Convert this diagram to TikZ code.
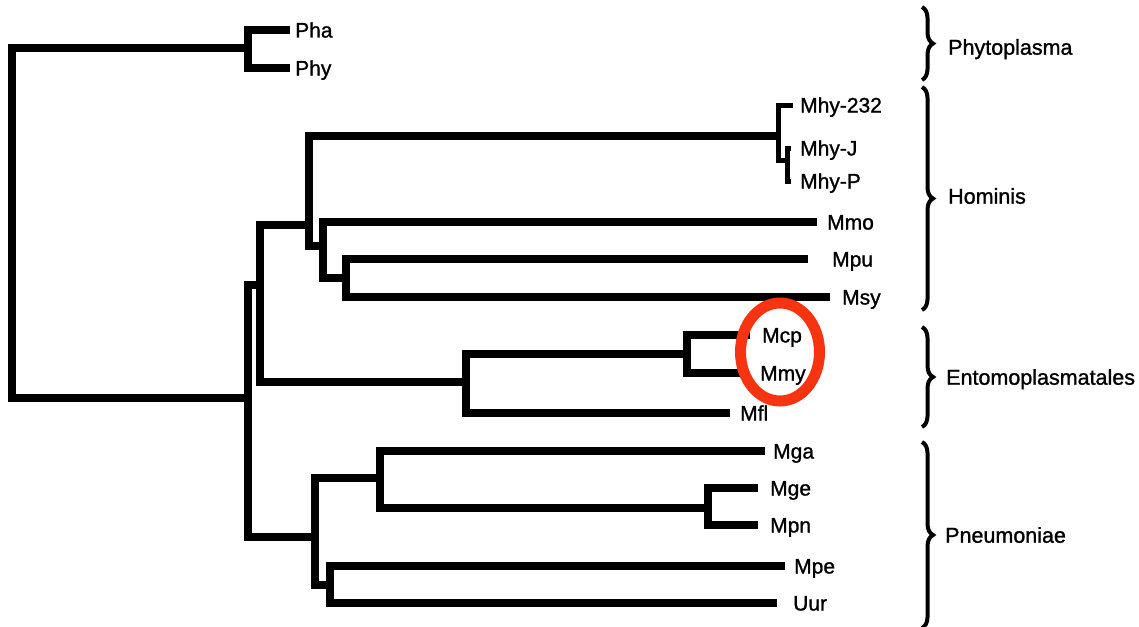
\documentclass[tikz,border=0pt]{standalone}
\usepackage{fontspec}
\setmainfont{Liberation Sans}
\newfontfamily\lblfont[FakeBold=1.2]{Liberation Sans}
\usetikzlibrary{decorations.pathreplacing}
\definecolor{markred}{RGB}{246,52,18}
\begin{document}
\begin{tikzpicture}[x=1pt,y=-1pt,
  branch/.style={line width=8pt},
  thinbranch/.style={line width=5pt},
  tip/.style={anchor=west, inner ysep=0pt, text height=15pt, text depth=0pt, font=\lblfont\fontsize{21}{24}\selectfont},
  grouplabel/.style={anchor=west, inner sep=0pt, text height=15.4pt, text depth=0pt, font=\lblfont\fontsize{21.5}{25}\selectfont},
  groupbrace/.style={decorate, decoration={brace, amplitude=11pt}, line width=4pt}]
\fill[white] (0,0) rectangle (1139,626);
\useasboundingbox (0,0) rectangle (1139,626);

% internal nodes
\coordinate (root) at (12,220);
\coordinate (nP) at (248,48);
\coordinate (nA) at (248,398);
\coordinate (nB) at (260,285);
\coordinate (nI) at (309,225);
\coordinate (nM1) at (778,136);
\coordinate (nM2) at (787,160);
\coordinate (nJ) at (323,246);
\coordinate (nK) at (346,278);
\coordinate (nG) at (466,382);
\coordinate (nH) at (687,354);
\coordinate (nC) at (315,537);
\coordinate (nD) at (380,478);
\coordinate (nE) at (330,585);
\coordinate (nF) at (708,508);

% tips
\node[tip,inner xsep=5pt] (pha) at (290,30) {Pha};
\node[tip,inner xsep=5pt] (phy) at (290,68) {Phy};
\node[tip,inner xsep=7pt] (mhy232) at (793,105) {Mhy-232};
\node[tip,inner xsep=9pt] (mhyj) at (791,148) {Mhy-J};
\node[tip,inner xsep=9pt] (mhyp) at (791,181) {Mhy-P};
\node[tip,inner xsep=10pt] (mmo) at (817,222) {Mmo};
\node[tip,inner xsep=24pt] (mpu) at (808,259) {Mpu};
\node[tip,inner xsep=12pt] (msy) at (830,297) {Msy};
\node[tip,inner xsep=12pt] (mcp) at (750,335) {Mcp};
\node[tip,inner xsep=12pt] (mmy) at (748,373) {Mmy};
\node[tip,inner xsep=10pt] (mfl) at (730,413) {Mfl};
\node[tip,inner xsep=8pt] (mga) at (765,451) {Mga};
\node[tip,inner xsep=12pt] (mge) at (758,488) {Mge};
\node[tip,inner xsep=12pt] (mpn) at (758,525) {Mpn};
\node[tip,inner xsep=9pt] (mpe) at (785,566) {Mpe};
\node[tip,inner xsep=16pt] (uur) at (777,603) {Uur};

% branches
\draw[branch] (nP) -| (root) |- (nA);
\draw[branch] (pha.west) -| (nP) |- (phy.west);
\draw[branch] (nB) -| (nA) |- (nC);
\draw[branch] (nI) -| (nB) |- (nG);
\draw[branch] (nM1) -| (nI) |- (nJ);
\draw[thinbranch] (mhy232.west) -| (nM1) |- (nM2);
\draw[thinbranch] (mhyj.west) -| (nM2) |- (mhyp.west);
\draw[branch] (mmo.west) -| (nJ) |- (nK);
\draw[branch] (mpu.west) -| (nK) |- (msy.west);
\draw[branch] (nH) -| (nG) |- (mfl.west);
\draw[branch] (mcp.west) -| (nH) |- (mmy.west);
\draw[branch] (nD) -| (nC) |- (nE);
\draw[branch] (mga.west) -| (nD) |- (nF);
\draw[branch] (mge.west) -| (nF) |- (mpn.west);
\draw[branch] (mpe.west) -| (nE) |- (uur.west);

% group braces
\coordinate (bP1) at (922,7);   \coordinate (bP2) at (922,80);
\coordinate (bH1) at (922,87);  \coordinate (bH2) at (922,310);
\coordinate (bE1) at (922,327); \coordinate (bE2) at (922,427);
\coordinate (bN1) at (922,442); \coordinate (bN2) at (922,628);
\draw[groupbrace] (bP1) -- (bP2);
\draw[groupbrace] (bH1) -- (bH2);
\draw[groupbrace] (bE1) -- (bE2);
\draw[groupbrace] (bN1) -- (bN2);
\node[grouplabel] (gphyto) at (948,47) {Phytoplasma};
\node[grouplabel] (ghom) at (948,196) {Hominis};
\node[grouplabel] (gento) at (946,377) {Entomoplasmatales};
\node[grouplabel] (gpneu) at (945,535) {Pneumoniae};

% highlight
\draw[markred, line width=11pt] (780,352) ellipse [x radius=39.5pt, y radius=49pt];
\end{tikzpicture}
\end{document}
